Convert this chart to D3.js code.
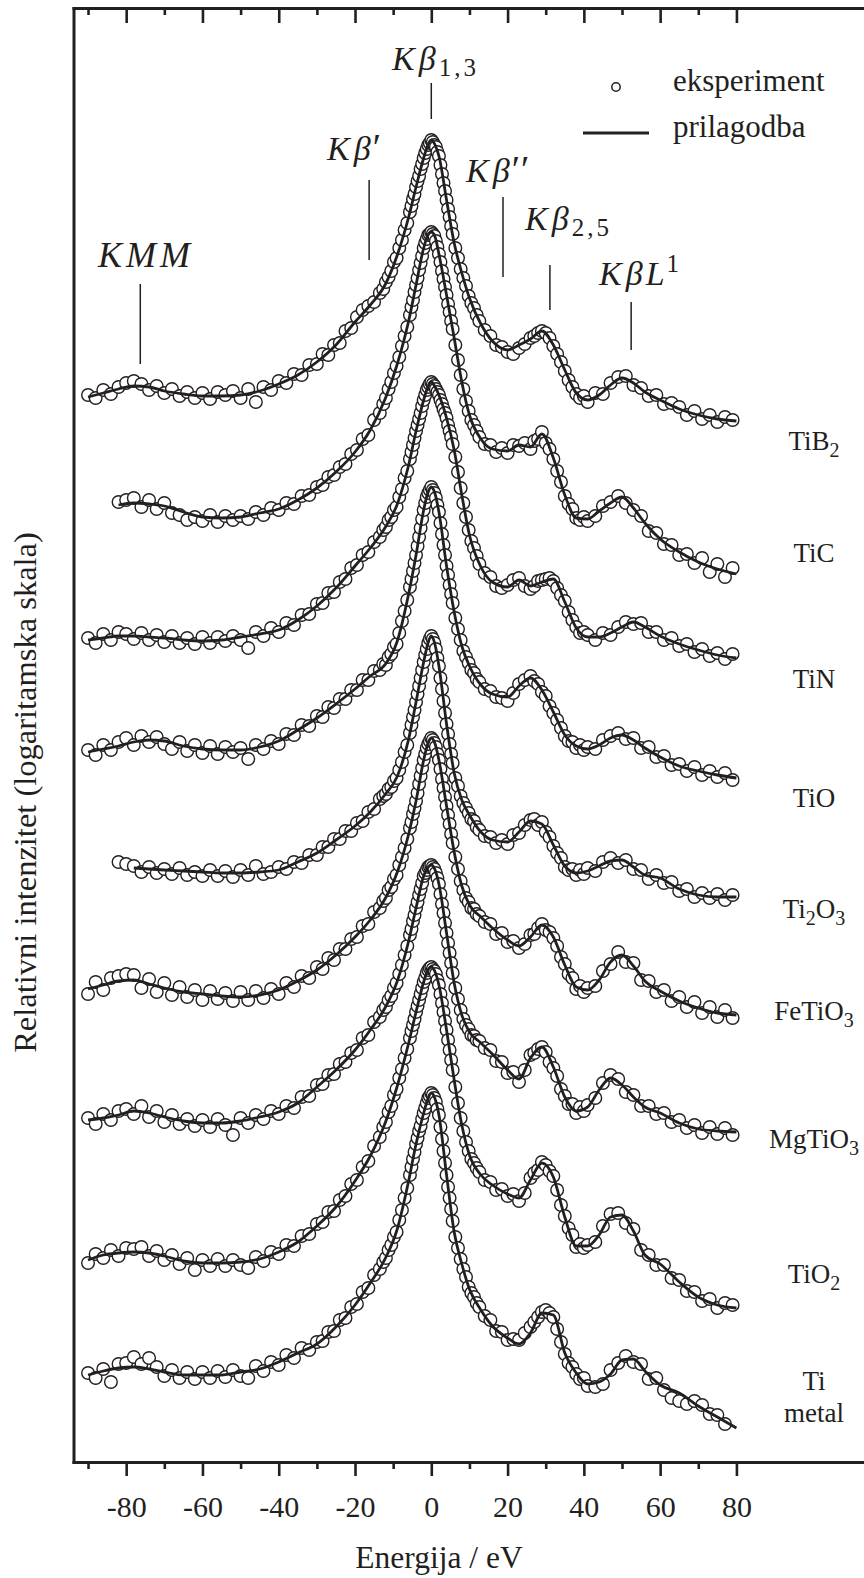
<!DOCTYPE html>
<html><head><meta charset="utf-8">
<script src="https://cdn.jsdelivr.net/npm/d3@7"></script>
<style>
html,body{margin:0;padding:0;background:#fff;}
svg{display:block;}
text{font-family:"Liberation Serif","Times New Roman",serif;fill:#231f20;}
</style></head><body>
<svg id="chart" width="864" height="1578"></svg>
<script>
// ---------------- DATA ----------------
// energy of the experimental points (eV, relative to K beta 1,3)
const energyGrid = [-90,-88,-86,-84,-82,-80,-78,-76,-74,-72,-70,-68,-66,-64,-62,-60,-58,-56,-54,-52,-50,-48,-46,-44,-42,-40,-38,-36,-34,-32,
 -30,-28.5,-27,-25.5,-24,-22.5,-21,-19.5,-18,-16.5,-15,-13.5,
 -12.6,-11.9,-11.2,-10.5,-9.8,-9.1,-8.4,-7.7,-7,-6.3,
 -5.6,-5.2,-4.8,-4.4,-4,-3.6,-3.2,-2.8,-2.4,-2,-1.6,-1.2,-0.8,-0.4,0,0.4,0.8,1.2,1.6,2,2.4,2.8,3.2,3.6,4,4.4,4.8,5.2,5.6,
 6.3,7,7.7,8.4,9.1,9.8,10.5,11.2,11.9,12.6,
 14,15.5,17,18.5,20,21.5,23,24.5,26,
 27,28,29,30,31,32,33,34,35,36,37,38,39,40,41,
 43,45,47,49,51,53,55,57,59,61,63,65,67,69,71,73,75,77,79];
// energy of the fitted curve nodes (eV)
const fitEnergy = [-90,-86,-82,-78,-74,-70,-65,-60,-55,-50,-45,-40,-35,-30,-25,-20,-16,-12,-9,-6,-4,-2,-1,0,1,2,4,6,8,10,13,16,20,23,26,29,32,35,38,41,44,47,50,53,56,60,65,70,75,80];

const compounds = ["TiB2","TiC","TiN","TiO","Ti2O3","FeTiO3","MgTiO3","TiO2","Ti metal"];
// vertical display offset of each spectrum (decades of log intensity)
const offsets = [-1.32,-2.24,-3.74,-4.79,-6.28,-7.30,-8.57,-9.59,-10.85];

// experimental log10(I/Imax)
const expTiB2 = [-2.55,-2.58,-2.50,-2.54,-2.47,-2.43,-2.41,-2.44,-2.50,-2.46,-2.53,-2.49,-2.56,-2.52,-2.58,-2.53,-2.59,-2.52,-2.55,-2.51,-2.58,-2.49,-2.62,-2.47,-2.50,-2.41,-2.43,-2.34,-2.35,-2.25,
 -2.24,-2.14,-2.15,-2.05,-2.03,-1.91,-1.88,-1.77,-1.70,-1.66,-1.62,-1.53,
 -1.49,-1.42,-1.37,-1.31,-1.22,-1.18,-1.08,-1.00,-0.90,-0.83,
 -0.72,-0.66,-0.59,-0.54,-0.47,-0.41,-0.36,-0.29,-0.24,-0.18,-0.13,-0.09,-0.05,-0.03,0,-0.02,-0.05,-0.07,-0.12,-0.16,-0.25,-0.34,-0.43,-0.51,-0.60,-0.69,-0.77,-0.86,-0.94,
 -1.08,-1.18,-1.29,-1.38,-1.46,-1.56,-1.63,-1.68,-1.75,-1.81,
 -1.90,-1.96,-2.05,-2.07,-2.12,-2.14,-2.08,-2.04,-1.98,
 -1.96,-1.93,-1.91,-1.93,-1.98,-2.06,-2.14,-2.22,-2.31,-2.40,-2.47,-2.54,-2.58,-2.56,-2.62,
 -2.53,-2.54,-2.43,-2.37,-2.36,-2.45,-2.48,-2.56,-2.55,-2.64,-2.63,-2.67,-2.75,-2.71,-2.79,-2.75,-2.82,-2.77,-2.80];
const expTiC = [null,null,null,null,-2.70,-2.68,-2.66,-2.75,-2.68,-2.77,-2.71,-2.81,-2.83,-2.88,-2.85,-2.89,-2.83,-2.90,-2.84,-2.88,-2.84,-2.87,-2.80,-2.83,-2.76,-2.78,-2.71,-2.72,-2.64,-2.63,
 -2.55,-2.53,-2.45,-2.43,-2.35,-2.32,-2.22,-2.18,-2.07,-2.03,-1.88,-1.81,
 -1.72,-1.66,-1.57,-1.50,-1.41,-1.34,-1.25,-1.14,-1.04,-0.95,
 -0.83,-0.75,-0.68,-0.60,-0.53,-0.46,-0.38,-0.31,-0.24,-0.16,-0.11,-0.07,-0.03,-0.02,0,-0.02,-0.04,-0.09,-0.15,-0.22,-0.30,-0.39,-0.47,-0.55,-0.63,-0.72,-0.80,-0.89,-0.97,
 -1.13,-1.28,-1.43,-1.57,-1.69,-1.79,-1.88,-1.93,-1.99,-2.05,
 -2.12,-2.13,-2.20,-2.16,-2.21,-2.13,-2.14,-2.11,-2.17,
 -2.09,-2.07,-2.00,-2.11,-2.17,-2.27,-2.39,-2.50,-2.64,-2.72,-2.77,-2.86,-2.88,-2.85,-2.89,
 -2.84,-2.74,-2.70,-2.64,-2.71,-2.78,-2.84,-2.99,-3.01,-3.12,-3.13,-3.23,-3.22,-3.31,-3.26,-3.40,-3.32,-3.45,-3.36];
const expTiN = [-2.56,-2.61,-2.52,-2.58,-2.50,-2.52,-2.57,-2.51,-2.58,-2.53,-2.60,-2.54,-2.61,-2.56,-2.62,-2.55,-2.61,-2.55,-2.59,-2.54,-2.58,-2.66,-2.50,-2.54,-2.46,-2.50,-2.41,-2.43,-2.33,-2.32,
 -2.22,-2.21,-2.11,-2.10,-2.00,-1.97,-1.86,-1.83,-1.73,-1.70,-1.60,-1.55,
 -1.48,-1.45,-1.38,-1.35,-1.28,-1.25,-1.15,-1.07,-0.96,-0.89,
 -0.77,-0.70,-0.63,-0.56,-0.49,-0.43,-0.37,-0.31,-0.24,-0.18,-0.13,-0.08,-0.05,-0.02,0,-0.02,-0.04,-0.07,-0.10,-0.13,-0.18,-0.22,-0.27,-0.31,-0.36,-0.43,-0.49,-0.55,-0.62,
 -0.75,-0.90,-1.06,-1.21,-1.35,-1.48,-1.59,-1.66,-1.74,-1.82,
 -1.91,-1.95,-2.04,-2.06,-2.03,-1.98,-1.96,-2.04,-2.07,
 -2.04,-1.99,-1.98,-1.97,-1.96,-1.99,-2.06,-2.13,-2.19,-2.30,-2.38,-2.45,-2.51,-2.50,-2.53,
 -2.58,-2.51,-2.53,-2.45,-2.40,-2.42,-2.41,-2.50,-2.50,-2.58,-2.56,-2.64,-2.62,-2.70,-2.67,-2.74,-2.71,-2.77,-2.72];
const expTiO = [-2.63,-2.68,-2.58,-2.63,-2.55,-2.51,-2.58,-2.49,-2.55,-2.50,-2.57,-2.62,-2.55,-2.64,-2.58,-2.66,-2.59,-2.67,-2.60,-2.65,-2.61,-2.72,-2.58,-2.62,-2.54,-2.57,-2.47,-2.48,-2.38,-2.39,
 -2.29,-2.30,-2.20,-2.21,-2.12,-2.12,-2.03,-2.03,-1.93,-1.93,-1.84,-1.83,
 -1.77,-1.78,-1.70,-1.67,-1.60,-1.57,-1.46,-1.34,-1.24,-1.13,
 -1.00,-0.92,-0.84,-0.76,-0.68,-0.59,-0.50,-0.41,-0.32,-0.23,-0.16,-0.10,-0.06,-0.03,0,-0.03,-0.06,-0.11,-0.18,-0.25,-0.36,-0.47,-0.58,-0.68,-0.79,-0.88,-0.98,-1.07,-1.16,
 -1.31,-1.42,-1.53,-1.64,-1.70,-1.76,-1.83,-1.86,-1.92,-1.95,
 -2.02,-2.04,-2.10,-2.11,-2.14,-2.06,-1.97,-1.93,-1.89,
 -1.94,-1.97,-2.05,-2.09,-2.19,-2.26,-2.33,-2.41,-2.49,-2.54,-2.55,-2.61,-2.58,-2.63,-2.60,
 -2.62,-2.53,-2.49,-2.46,-2.52,-2.51,-2.61,-2.60,-2.70,-2.69,-2.78,-2.77,-2.84,-2.80,-2.88,-2.84,-2.90,-2.86,-2.93];
const expTi2O3 = [null,null,null,null,-2.26,-2.28,-2.30,-2.36,-2.31,-2.37,-2.33,-2.38,-2.32,-2.39,-2.36,-2.40,-2.34,-2.40,-2.35,-2.41,-2.34,-2.39,-2.30,-2.38,-2.36,-2.31,-2.33,-2.26,-2.27,-2.19,
 -2.19,-2.11,-2.11,-2.03,-2.03,-1.95,-1.95,-1.87,-1.85,-1.76,-1.73,-1.63,
 -1.60,-1.58,-1.53,-1.51,-1.45,-1.42,-1.34,-1.26,-1.16,-1.09,
 -0.97,-0.89,-0.81,-0.74,-0.66,-0.58,-0.50,-0.42,-0.34,-0.26,-0.19,-0.13,-0.07,-0.03,0,-0.03,-0.07,-0.13,-0.22,-0.30,-0.42,-0.53,-0.65,-0.77,-0.88,-0.98,-1.08,-1.18,-1.27,
 -1.42,-1.50,-1.60,-1.67,-1.72,-1.77,-1.83,-1.85,-1.91,-1.94,
 -2.00,-2.01,-2.07,-2.04,-2.08,-1.99,-1.97,-1.89,-1.84,
 -1.83,-1.89,-1.86,-1.96,-2.01,-2.10,-2.17,-2.22,-2.31,-2.34,-2.33,-2.39,-2.34,-2.38,-2.32,
 -2.35,-2.26,-2.22,-2.27,-2.24,-2.33,-2.34,-2.43,-2.39,-2.47,-2.46,-2.55,-2.53,-2.61,-2.57,-2.62,-2.58,-2.64,-2.59];
const expFeTiO3 = [-2.56,-2.44,-2.52,-2.40,-2.38,-2.36,-2.37,-2.50,-2.41,-2.54,-2.45,-2.57,-2.49,-2.59,-2.52,-2.62,-2.53,-2.61,-2.55,-2.63,-2.54,-2.62,-2.53,-2.60,-2.51,-2.56,-2.45,-2.49,-2.38,-2.40,
 -2.29,-2.31,-2.20,-2.22,-2.11,-2.11,-2.01,-1.99,-1.88,-1.86,-1.74,-1.70,
 -1.63,-1.60,-1.52,-1.49,-1.41,-1.37,-1.27,-1.19,-1.10,-1.01,
 -0.90,-0.84,-0.76,-0.70,-0.63,-0.55,-0.46,-0.38,-0.30,-0.22,-0.16,-0.10,-0.06,-0.03,0,-0.02,-0.05,-0.09,-0.16,-0.22,-0.31,-0.41,-0.50,-0.59,-0.68,-0.77,-0.86,-0.96,-1.05,
 -1.19,-1.31,-1.43,-1.52,-1.60,-1.64,-1.70,-1.71,-1.76,-1.78,
 -1.84,-1.86,-1.96,-1.95,-2.04,-2.03,-2.10,-2.06,-1.97,
 -1.96,-1.90,-1.86,-1.92,-1.94,-2.00,-2.08,-2.19,-2.26,-2.36,-2.40,-2.51,-2.48,-2.54,-2.50,
 -2.48,-2.33,-2.26,-2.14,-2.24,-2.25,-2.42,-2.43,-2.54,-2.52,-2.63,-2.59,-2.69,-2.64,-2.75,-2.69,-2.79,-2.72,-2.80];
const expMgTiO3 = [-2.53,-2.59,-2.49,-2.55,-2.46,-2.44,-2.49,-2.41,-2.52,-2.46,-2.57,-2.50,-2.59,-2.54,-2.61,-2.55,-2.62,-2.54,-2.60,-2.70,-2.53,-2.58,-2.50,-2.54,-2.46,-2.49,-2.41,-2.43,-2.32,-2.31,
 -2.20,-2.19,-2.10,-2.09,-1.99,-1.97,-1.88,-1.85,-1.73,-1.70,-1.57,-1.52,
 -1.45,-1.42,-1.35,-1.31,-1.23,-1.18,-1.09,-1.00,-0.90,-0.81,
 -0.70,-0.64,-0.56,-0.50,-0.43,-0.37,-0.30,-0.24,-0.18,-0.11,-0.08,-0.05,-0.02,-0.01,0,-0.02,-0.04,-0.08,-0.13,-0.19,-0.29,-0.39,-0.48,-0.58,-0.68,-0.78,-0.88,-0.98,-1.08,
 -1.23,-1.34,-1.45,-1.54,-1.60,-1.64,-1.70,-1.71,-1.75,-1.76,
 -1.83,-1.85,-1.96,-1.97,-2.08,-2.07,-2.17,-2.05,-1.90,
 -1.88,-1.84,-1.82,-1.87,-1.97,-2.03,-2.11,-2.24,-2.31,-2.39,-2.39,-2.48,-2.42,-2.46,-2.40,
 -2.33,-2.18,-2.10,-2.14,-2.27,-2.30,-2.41,-2.41,-2.49,-2.48,-2.57,-2.55,-2.63,-2.60,-2.68,-2.62,-2.69,-2.63,-2.70];
const expTiO2 = [-2.96,-2.87,-2.91,-2.83,-2.89,-2.81,-2.82,-2.80,-2.89,-2.84,-2.93,-2.88,-2.97,-2.91,-3.03,-2.93,-2.99,-2.92,-2.99,-2.93,-2.98,-3.01,-2.90,-2.94,-2.85,-2.87,-2.78,-2.79,-2.69,-2.67,
 -2.57,-2.55,-2.45,-2.44,-2.33,-2.29,-2.17,-2.13,-2.00,-1.94,-1.79,-1.70,
 -1.60,-1.55,-1.45,-1.39,-1.28,-1.22,-1.11,-1.02,-0.91,-0.82,
 -0.71,-0.64,-0.58,-0.52,-0.45,-0.39,-0.33,-0.27,-0.21,-0.15,-0.11,-0.06,-0.03,-0.01,0,-0.02,-0.04,-0.07,-0.13,-0.18,-0.27,-0.36,-0.45,-0.54,-0.63,-0.73,-0.83,-0.93,-1.03,
 -1.20,-1.36,-1.51,-1.64,-1.75,-1.84,-1.92,-1.96,-2.01,-2.05,
 -2.13,-2.15,-2.23,-2.22,-2.29,-2.27,-2.34,-2.26,-2.11,
 -2.06,-2.03,-1.95,-1.98,-2.04,-2.09,-2.23,-2.38,-2.49,-2.61,-2.68,-2.80,-2.77,-2.81,-2.78,
 -2.75,-2.59,-2.47,-2.46,-2.56,-2.62,-2.83,-2.88,-2.98,-2.98,-3.11,-3.13,-3.24,-3.25,-3.34,-3.32,-3.41,-3.36,-3.38];
const expTi = [-2.80,-2.85,-2.76,-2.89,-2.71,-2.70,-2.64,-2.71,-2.65,-2.74,-2.83,-2.77,-2.85,-2.79,-2.86,-2.79,-2.85,-2.78,-2.84,-2.77,-2.83,-2.85,-2.73,-2.78,-2.69,-2.72,-2.62,-2.65,-2.55,-2.57,
 -2.49,-2.48,-2.39,-2.38,-2.27,-2.25,-2.14,-2.11,-1.99,-1.95,-1.82,-1.76,
 -1.69,-1.65,-1.57,-1.52,-1.44,-1.39,-1.27,-1.17,-1.05,-0.95,
 -0.82,-0.74,-0.66,-0.59,-0.51,-0.45,-0.38,-0.33,-0.26,-0.20,-0.15,-0.10,-0.05,-0.03,0,-0.02,-0.05,-0.09,-0.16,-0.22,-0.34,-0.46,-0.58,-0.70,-0.82,-0.94,-1.05,-1.16,-1.28,
 -1.44,-1.55,-1.66,-1.76,-1.84,-1.94,-2.00,-2.04,-2.10,-2.14,
 -2.23,-2.27,-2.38,-2.39,-2.47,-2.46,-2.47,-2.40,-2.34,
 -2.29,-2.24,-2.19,-2.17,-2.20,-2.24,-2.36,-2.49,-2.61,-2.70,-2.74,-2.81,-2.86,-2.85,-2.93,
 -2.94,-2.91,-2.77,-2.70,-2.63,-2.69,-2.71,-2.86,-2.85,-2.97,-3.05,-3.08,-3.11,-3.08,-3.12,-3.21,-3.22,-3.31,null];

// fitted log10(I/Imax) at fitEnergy nodes
const fitTiB2 = [-2.57,-2.53,-2.49,-2.46,-2.47,-2.51,-2.54,-2.56,-2.56,-2.55,-2.51,-2.44,-2.35,-2.22,-2.05,-1.82,-1.65,-1.44,-1.16,-0.78,-0.47,-0.18,-0.06,0,-0.05,-0.16,-0.60,-1.03,-1.33,-1.58,-1.84,-2.01,-2.10,-2.05,-1.99,-1.91,-2.05,-2.30,-2.53,-2.60,-2.55,-2.45,-2.38,-2.43,-2.52,-2.60,-2.69,-2.75,-2.79,-2.81];
const fitTiC = [null,null,-2.73,-2.71,-2.72,-2.74,-2.80,-2.85,-2.86,-2.85,-2.81,-2.77,-2.68,-2.56,-2.40,-2.20,-1.98,-1.66,-1.33,-0.90,-0.53,-0.16,-0.04,0,-0.05,-0.22,-0.63,-1.06,-1.50,-1.83,-2.07,-2.17,-2.19,-2.13,-2.15,-2.02,-2.26,-2.63,-2.86,-2.87,-2.79,-2.71,-2.65,-2.76,-2.91,-3.07,-3.20,-3.30,-3.37,-3.42];
const fitTiN = [-2.58,-2.56,-2.54,-2.54,-2.55,-2.56,-2.58,-2.59,-2.58,-2.55,-2.52,-2.48,-2.38,-2.24,-2.06,-1.84,-1.66,-1.45,-1.23,-0.84,-0.49,-0.18,-0.06,0,-0.05,-0.13,-0.36,-0.68,-1.13,-1.53,-1.85,-2.00,-2.05,-1.98,-2.04,-2.00,-1.97,-2.20,-2.46,-2.55,-2.55,-2.51,-2.45,-2.40,-2.45,-2.54,-2.62,-2.68,-2.73,-2.76];
const fitTiO = [-2.65,-2.62,-2.59,-2.55,-2.53,-2.54,-2.59,-2.62,-2.63,-2.63,-2.60,-2.54,-2.43,-2.31,-2.17,-2.02,-1.89,-1.77,-1.55,-1.08,-0.68,-0.23,-0.07,0,-0.07,-0.25,-0.79,-1.25,-1.59,-1.79,-1.98,-2.07,-2.10,-1.99,-1.91,-2.03,-2.25,-2.48,-2.59,-2.62,-2.58,-2.51,-2.48,-2.53,-2.61,-2.70,-2.79,-2.84,-2.88,-2.91];
const fitTi2O3 = [null,null,null,-2.32,-2.33,-2.34,-2.35,-2.36,-2.37,-2.37,-2.36,-2.34,-2.26,-2.17,-2.04,-1.90,-1.76,-1.58,-1.41,-1.04,-0.66,-0.26,-0.09,0,-0.09,-0.30,-0.88,-1.37,-1.64,-1.79,-1.96,-2.04,-2.06,-1.96,-1.85,-1.88,-2.09,-2.30,-2.37,-2.35,-2.30,-2.25,-2.24,-2.31,-2.39,-2.42,-2.53,-2.59,-2.61,-2.61];
const fitFeTiO3 = [-2.51,-2.47,-2.43,-2.42,-2.46,-2.50,-2.54,-2.56,-2.58,-2.59,-2.57,-2.52,-2.43,-2.32,-2.17,-1.99,-1.82,-1.60,-1.35,-0.97,-0.63,-0.22,-0.07,0,-0.06,-0.22,-0.68,-1.14,-1.48,-1.67,-1.79,-1.90,-2.02,-2.08,-1.99,-1.87,-1.99,-2.27,-2.49,-2.52,-2.42,-2.24,-2.17,-2.28,-2.43,-2.53,-2.63,-2.70,-2.75,-2.77];
const fitMgTiO3 = [-2.55,-2.53,-2.50,-2.46,-2.48,-2.52,-2.56,-2.58,-2.58,-2.56,-2.52,-2.47,-2.38,-2.22,-2.05,-1.85,-1.65,-1.42,-1.17,-0.77,-0.43,-0.11,-0.03,0,-0.05,-0.19,-0.68,-1.18,-1.50,-1.67,-1.78,-1.89,-2.05,-2.14,-1.93,-1.82,-2.02,-2.32,-2.46,-2.42,-2.25,-2.13,-2.20,-2.32,-2.42,-2.48,-2.58,-2.64,-2.66,-2.67];
const fitTiO2 = [-2.93,-2.88,-2.86,-2.85,-2.86,-2.89,-2.94,-2.96,-2.96,-2.95,-2.92,-2.85,-2.75,-2.59,-2.40,-2.14,-1.89,-1.55,-1.20,-0.77,-0.45,-0.15,-0.04,0,-0.05,-0.18,-0.63,-1.13,-1.58,-1.88,-2.08,-2.18,-2.27,-2.31,-2.13,-1.96,-2.10,-2.50,-2.79,-2.79,-2.68,-2.50,-2.48,-2.64,-2.88,-2.97,-3.15,-3.30,-3.38,-3.41];
const fitTi = [-2.82,-2.78,-2.75,-2.74,-2.76,-2.79,-2.82,-2.82,-2.82,-2.79,-2.76,-2.69,-2.60,-2.51,-2.34,-2.12,-1.90,-1.65,-1.37,-0.89,-0.51,-0.20,-0.07,0,-0.06,-0.22,-0.82,-1.39,-1.71,-1.96,-2.17,-2.33,-2.45,-2.51,-2.40,-2.20,-2.22,-2.60,-2.80,-2.91,-2.89,-2.81,-2.67,-2.66,-2.78,-2.92,-3.00,-3.13,-3.24,-3.35];

const xMajorTicks = [-80,-60,-40,-20,0,20,40,60,80];
const xMinorTicks = [-90,-70,-50,-30,-10,10,30,50,70];
const peakNames = ["KMM","Kβ1,3","Kβ′","Kβ″","Kβ2,5","KβL1"];
const peakEnergies = [-76.3,0,-16.3,18.8,31.1,52.4];

// ---------------- LAYOUT ----------------
const ink = "#231f20";
const serif = "Liberation Serif, Times New Roman, serif";
const plotLeft = 73.5, plotRight = 864, plotTop = 8, plotBottom = 1462;
const svg = d3.select("#chart");
const x = d3.scaleLinear().domain([-93.81, 113.45]).range([plotLeft, plotRight]);
const y = d3.scaleLinear().domain([0, -14.54]).range([plotTop, plotBottom]);

const expSets = [expTiB2, expTiC, expTiN, expTiO, expTi2O3, expFeTiO3, expMgTiO3, expTiO2, expTi];
const fitSets = [fitTiB2, fitTiC, fitTiN, fitTiO, fitTi2O3, fitFeTiO3, fitMgTiO3, fitTiO2, fitTi];

const gData = svg.append("g");
const line = d3.line().x(d => x(d.e)).y(d => y(d.v)).curve(d3.curveMonotoneX);
compounds.forEach((c, k) => {
  const off = offsets[k];
  const pts = energyGrid.map((e, i) => ({e, v: expSets[k][i]}))
    .filter(d => d.v != null).map(d => ({e: d.e, v: d.v + off}));
  const fpts = fitEnergy.map((e, i) => ({e, v: fitSets[k][i]}))
    .filter(d => d.v != null).map(d => ({e: d.e, v: d.v + off}));
  const g = gData.append("g");
  g.selectAll("circle").data(pts).join("circle")
    .attr("cx", d => x(d.e)).attr("cy", d => y(d.v)).attr("r", 6.3)
    .attr("fill", "#fff").attr("stroke", ink).attr("stroke-width", 1.4);
  g.append("path").datum(fpts).attr("d", line)
    .attr("fill", "none").attr("stroke", ink).attr("stroke-width", 2.8)
    .attr("stroke-linejoin", "round");
});

// ---------------- AXES ----------------
function styleAxis(g) {
  g.attr("font-family", serif).attr("font-size", null);
  g.selectAll(".domain").attr("stroke", ink).attr("stroke-width", 3).attr("stroke-linecap", "square");
  g.selectAll(".tick line").attr("stroke", ink).attr("stroke-width", 2.6);
}
const gBottom = svg.append("g").attr("transform", `translate(0,${plotBottom})`)
  .call(d3.axisBottom(x).tickValues(xMajorTicks).tickSize(14).tickSizeOuter(0).tickFormat(d => String(d)));
styleAxis(gBottom);
gBottom.selectAll(".tick text").attr("y", 55).attr("dy", null)
  .attr("font-size", 30).attr("font-family", serif).attr("fill", ink);
const gBottomMinor = svg.append("g").attr("transform", `translate(0,${plotBottom})`)
  .call(d3.axisBottom(x).tickValues(xMinorTicks).tickSize(7).tickSizeOuter(0).tickFormat(""));
styleAxis(gBottomMinor); gBottomMinor.select(".domain").remove();

const gTop = svg.append("g").attr("transform", `translate(0,${plotTop})`)
  .call(d3.axisBottom(x).tickValues(xMajorTicks).tickSize(15).tickSizeOuter(0).tickFormat(""));
styleAxis(gTop);
const gTopMinor = svg.append("g").attr("transform", `translate(0,${plotTop})`)
  .call(d3.axisBottom(x).tickValues(xMinorTicks).tickSize(7).tickSizeOuter(0).tickFormat(""));
styleAxis(gTopMinor); gTopMinor.select(".domain").remove();

const gLeft = svg.append("g").attr("transform", `translate(${plotLeft},0)`)
  .call(d3.axisLeft(y).tickValues([]).tickSizeOuter(0));
styleAxis(gLeft);

// axis titles
svg.append("text").attr("x", 439).attr("y", 1568).attr("text-anchor", "middle")
  .attr("font-family", serif).attr("font-size", 31.5).text("Energija / eV");
svg.append("text").attr("transform", "translate(36,792.5) rotate(-90)").attr("text-anchor", "middle")
  .attr("font-family", serif).attr("font-size", 32.5).text("Relativni intenzitet (logaritamska skala)");

// ---------------- COMPOUND LABELS ----------------
const labelParts = [
  [["TiB",0],["2",1]], [["TiC",0]], [["TiN",0]], [["TiO",0]],
  [["Ti",0],["2",1],["O",0],["3",1]], [["FeTiO",0],["3",1]], [["MgTiO",0],["3",1]],
  [["TiO",0],["2",1]], [["Ti",0]]
];
const labelY = [450, 562, 688, 807, 918, 1020, 1148, 1283, 1390];
labelParts.forEach((parts, k) => {
  const t = svg.append("text").attr("x", 814).attr("y", labelY[k])
    .attr("text-anchor", "middle").attr("font-family", serif).attr("font-size", 27);
  let sub = false;
  parts.forEach(([s, isSub]) => {
    const ts = t.append("tspan").text(s);
    if (isSub && !sub) { ts.attr("dy", 7).attr("font-size", 20); sub = true; }
    else if (isSub) { ts.attr("font-size", 20); }
    else if (!isSub && sub) { ts.attr("dy", -7); sub = false; }
  });
});
svg.append("text").attr("x", 814).attr("y", 1422).attr("text-anchor", "middle")
  .attr("font-family", serif).attr("font-size", 27).text("metal");

// ---------------- PEAK ANNOTATIONS ----------------
const markerTop = [284, 83, 180, 197, 265, 302];
const markerBottom = [364, 119, 260, 277, 310, 350];
peakEnergies.forEach((e, i) => {
  svg.append("line").attr("x1", x(e)).attr("x2", x(e))
    .attr("y1", markerTop[i]).attr("y2", markerBottom[i])
    .attr("stroke", ink).attr("stroke-width", 1.5);
});
const mathFont = 34, subFont = 25;
function mathText(xp, yp) {
  return svg.append("text").attr("x", xp).attr("y", yp).attr("font-family", serif)
    .attr("font-size", mathFont).attr("font-style", "italic");
}
// KMM
mathText(98, 267).attr("font-size", 36).attr("letter-spacing", 4).text("KMM");
// K beta 1,3
{ const t = mathText(392, 70); t.append("tspan").text("K");
  t.append("tspan").attr("dx", 4).text("β");
  t.append("tspan").attr("font-style", "normal").attr("font-size", subFont).attr("dx", 3).attr("dy", 6).attr("letter-spacing", 3).text("1,3"); }
// K beta'
{ const t = mathText(327, 160); t.append("tspan").text("K");
  t.append("tspan").attr("dx", 4).text("β");
  t.append("tspan").attr("font-style", "normal").attr("font-size", 38).attr("dx", 2).text("′"); }
// K beta''
{ const t = mathText(466, 182); t.append("tspan").text("K");
  t.append("tspan").attr("dx", 4).text("β");
  t.append("tspan").attr("font-style", "normal").attr("font-size", 38).attr("dx", 2).attr("letter-spacing", 1).text("′′"); }
// K beta 2,5
{ const t = mathText(525, 230); t.append("tspan").text("K");
  t.append("tspan").attr("dx", 4).text("β");
  t.append("tspan").attr("font-style", "normal").attr("font-size", subFont).attr("dx", 3).attr("dy", 6).attr("letter-spacing", 3).text("2,5"); }
// K beta L1
{ const t = mathText(599, 285); t.append("tspan").text("K");
  t.append("tspan").attr("dx", 4).text("β");
  t.append("tspan").attr("dx", 3).text("L");
  t.append("tspan").attr("font-style", "normal").attr("font-size", subFont).attr("dx", 2).attr("dy", -13).text("1"); }

// ---------------- LEGEND ----------------
svg.append("circle").attr("cx", 616).attr("cy", 87).attr("r", 4.2)
  .attr("fill", "#fff").attr("stroke", ink).attr("stroke-width", 1.5);
svg.append("text").attr("x", 673).attr("y", 91).attr("font-family", serif).attr("font-size", 31).text("eksperiment");
svg.append("line").attr("x1", 583).attr("x2", 649).attr("y1", 133).attr("y2", 133)
  .attr("stroke", ink).attr("stroke-width", 3);
svg.append("text").attr("x", 673).attr("y", 137).attr("font-family", serif).attr("font-size", 31).text("prilagodba");
</script>
</body></html>
